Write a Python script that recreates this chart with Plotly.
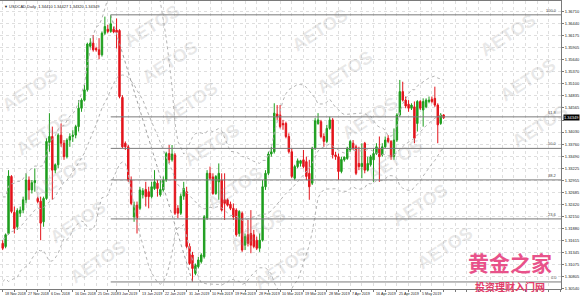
import pandas as pd
import plotly.graph_objects as go

# ---------------- data (USDCAD daily) ----------------
symbol = "USDCAD,Daily"
first_day = "2018-11-18"
last_day = "2019-05-14"
closed_days = ["2019-01-01"]

opens = [
 1.3155,1.3148,1.3177,1.3304,1.3224,1.3192,1.3222,1.3229,1.3252,1.3296,
 1.3274,1.3290,1.3255,1.3249,1.3203,1.3255,1.3380,1.3393,1.3318,1.3330,
 1.3396,1.3378,1.3348,1.3385,1.3393,1.3396,1.3415,1.3456,1.3474,1.3497,
 1.3594,1.3601,1.3589,1.3586,1.3575,1.3623,1.3632,1.3627,1.3632,1.3630,
 1.3629,1.3480,1.3378,1.3370,1.3296,1.3214,1.3240,1.3233,1.3263,1.3275,
 1.3270,1.3259,1.3277,1.3289,1.3263,1.3274,1.3296,1.3355,1.3341,1.3352,
 1.3233,1.3222,1.3260,1.3270,1.3148,1.3129,1.3088,1.3103,1.3114,1.3125,
 1.3211,1.3311,1.3303,1.3266,1.3292,1.3296,1.3252,1.3252,1.3242,1.3233,
 1.3229,1.3177,1.3222,1.3151,1.3174,1.3177,1.3174,1.3162,1.3144,1.3162,
 1.3281,1.3311,1.3354,1.3359,1.3443,1.3441,1.3422,1.3422,1.3393,1.3359,
 1.3300,1.3326,1.3333,1.3341,1.3337,1.3311,1.3289,1.3367,1.3422,1.3426,
 1.3393,1.3382,1.3411,1.3430,1.3352,1.3348,1.3315,1.3341,1.3344,1.3363,
 1.3378,1.3370,1.3333,1.3326,1.3378,1.3318,1.3330,1.3341,1.3355,1.3367,
 1.3352,1.3370,1.3389,1.3382,1.3348,1.3385,1.3441,1.3493,1.3474,1.3465,
 1.3456,1.3459,1.3422,1.3471,1.3452,1.3459,1.3471,1.3476,1.3478,1.3463,
 1.3422,1.34410]
highs = [
 1.3162,1.3177,1.3318,1.3307,1.3237,1.3233,1.3237,1.3259,1.3311,1.3304,
 1.3296,1.3322,1.3259,1.3259,1.3259,1.3389,1.3445,1.3415,1.3333,1.3400,
 1.3422,1.3385,1.3389,1.3400,1.3407,1.3419,1.3474,1.3478,1.3508,1.3602,
 1.3612,1.3619,1.3593,1.3612,1.3627,1.3660,1.3642,1.3664,1.3638,1.3656,
 1.3632,1.3485,1.3382,1.3374,1.3304,1.3248,1.3248,1.3281,1.3278,1.3292,
 1.3281,1.3292,1.3318,1.3296,1.3296,1.3304,1.3359,1.3374,1.3374,1.3356,
 1.3240,1.3266,1.3292,1.3281,1.3155,1.3136,1.3110,1.3125,1.3133,1.3218,
 1.3318,1.3326,1.3311,1.3307,1.3333,1.3311,1.3311,1.3255,1.3248,1.3244,
 1.3233,1.3229,1.3226,1.3177,1.3207,1.3229,1.3185,1.3170,1.3177,1.3296,
 1.3318,1.3359,1.3370,1.3467,1.3463,1.3463,1.3430,1.3426,1.3400,1.3367,
 1.3330,1.3344,1.3341,1.3363,1.3348,1.3341,1.3370,1.3434,1.3445,1.3430,
 1.3400,1.3419,1.3437,1.3434,1.3359,1.3355,1.3348,1.3348,1.3370,1.3385,
 1.3385,1.3374,1.3370,1.3378,1.3381,1.3348,1.3352,1.3367,1.3378,1.3393,
 1.3378,1.3393,1.3396,1.3385,1.3411,1.3445,1.3519,1.3515,1.3482,1.3474,
 1.3467,1.3471,1.3474,1.3474,1.3478,1.3478,1.3482,1.3482,1.3504,1.3467,
 1.3445,1.34427]
lows = [
 1.3140,1.3144,1.3174,1.3222,1.3177,1.3185,1.3214,1.3222,1.3244,1.3252,
 1.3266,1.3270,1.3244,1.3162,1.3192,1.3252,1.3359,1.3252,1.3311,1.3322,
 1.3370,1.3341,1.3344,1.3370,1.3381,1.3389,1.3404,1.3448,1.3471,1.3493,
 1.3589,1.3582,1.3582,1.3565,1.3571,1.3619,1.3623,1.3624,1.3623,1.3589,
 1.3478,1.3367,1.3363,1.3292,1.3240,1.3203,1.3177,1.3229,1.3255,1.3237,
 1.3233,1.3255,1.3274,1.3259,1.3259,1.3270,1.3292,1.3333,1.3337,1.3218,
 1.3211,1.3218,1.3252,1.3144,1.3107,1.3069,1.3084,1.3099,1.3110,1.3121,
 1.3207,1.3296,1.3263,1.3263,1.3252,1.3226,1.3207,1.3237,1.3229,1.3207,
 1.3170,1.3170,1.3136,1.3140,1.3148,1.3133,1.3144,1.3140,1.3136,1.3159,
 1.3274,1.3307,1.3348,1.3355,1.3430,1.3411,1.3408,1.3389,1.3355,1.3300,
 1.3296,1.3322,1.3326,1.3322,1.3296,1.3252,1.3285,1.3363,1.3419,1.3389,
 1.3370,1.3378,1.3408,1.3344,1.3341,1.3296,1.3311,1.3337,1.3341,1.3359,
 1.3363,1.3307,1.3318,1.3300,1.3311,1.3315,1.3326,1.3292,1.3352,1.3292,
 1.3348,1.3367,1.3378,1.3341,1.3341,1.3381,1.3437,1.3471,1.3456,1.3448,
 1.3452,1.3378,1.3404,1.3452,1.3415,1.3456,1.3467,1.3467,1.3459,1.3378,
 1.3419,1.34320]
closes = [
 1.3144,1.3174,1.3305,1.3226,1.3188,1.3228,1.3229,1.3252,1.3296,1.3274,
 1.3290,1.3295,1.3248,1.3200,1.3255,1.3382,1.3393,1.3318,1.3330,1.3396,
 1.3378,1.3348,1.3385,1.3393,1.3396,1.3415,1.3456,1.3474,1.3497,1.3599,
 1.3601,1.3586,1.3586,1.3575,1.3623,1.3638,1.3627,1.3644,1.3626,1.3625,
 1.3482,1.3370,1.3370,1.3296,1.3244,1.3240,1.3211,1.3274,1.3272,1.3259,
 1.3259,1.3281,1.3292,1.3277,1.3275,1.3296,1.3355,1.3341,1.3354,1.3222,
 1.3222,1.3260,1.3277,1.3148,1.3110,1.3099,1.3107,1.3118,1.3129,1.3214,
 1.3311,1.3300,1.3266,1.3304,1.3311,1.3229,1.3244,1.3240,1.3233,1.3214,
 1.3174,1.3226,1.3140,1.3170,1.3155,1.3151,1.3148,1.3144,1.3162,1.3281,
 1.3311,1.3354,1.3359,1.3445,1.3437,1.3415,1.3419,1.3393,1.3359,1.3304,
 1.3326,1.3339,1.3339,1.3326,1.3304,1.3281,1.3367,1.3428,1.3430,1.3393,
 1.3382,1.3411,1.3430,1.3352,1.3348,1.3315,1.3342,1.3347,1.3367,1.3382,
 1.3367,1.3311,1.3326,1.3333,1.3318,1.3333,1.3348,1.3355,1.3370,1.3348,
 1.3370,1.3385,1.3382,1.3348,1.3385,1.3441,1.3493,1.3474,1.3461,1.3456,
 1.3463,1.3389,1.3471,1.3456,1.3471,1.3474,1.3474,1.3471,1.3463,1.3419,
 1.3441,1.34349]
# closes of the bars just before the visible window (they feed the bands at the left edge)
prior_closes = [1.3110,1.3120,1.3135,1.3150,1.3160,1.3095,1.3140,1.3135,1.3150,1.3120,
                1.3140,1.3160,1.3220,1.3225,1.3240,1.3265,1.3240,1.3185,1.3145]

date_labels = ["18 Nov 2018","27 Nov 2018","6 Dec 2018","16 Dec 2018","25 Dec 2018",
               "3 Jan 2019","13 Jan 2019","22 Jan 2019","31 Jan 2019","10 Feb 2019",
               "19 Feb 2019","28 Feb 2019","10 Mar 2019","19 Mar 2019","28 Mar 2019",
               "7 Apr 2019","16 Apr 2019","25 Apr 2019","5 May 2019"]
price_ticks = [1.36710,1.36440,1.36175,1.35905,1.35640,1.35370,1.35100,1.34835,1.34565,
               1.34297,1.34030,1.33760,1.33490,1.33225,1.32955,1.32685,1.32420,1.32150,
               1.31880,1.31615,1.31345,1.31075,1.30805,1.30540]
fib_ratios = [1.0, 0.618, 0.5, 0.382, 0.236, 0.0]
fib_texts = ["100.0", "61.8", "50.0", "38.2", "23.6", "0.0"]
bb_period = 20
bb_dev = 2.0

# ---------------- bars / dates ----------------
days = pd.date_range(first_day, last_day, freq="D")
closed = set(pd.to_datetime(closed_days))
bar_dates = [d for d in days if d.weekday() != 5 and d not in closed]
n = min(len(bar_dates), len(closes))
bar_dates = bar_dates[:n]
idx = list(range(n))
date_to_idx = {d.strftime("%-d %b %Y"): i for i, d in enumerate(bar_dates)}
label_idx = [date_to_idx[l] for l in date_labels]

# Bollinger bands
s = pd.Series(prior_closes + closes[:n])
mid = s.rolling(bb_period).mean()
sd = s.rolling(bb_period).std(ddof=0)
upper = (mid + bb_dev * sd).iloc[-n:].tolist()
lower = (mid - bb_dev * sd).iloc[-n:].tolist()
middle = mid.iloc[-n:].tolist()

# ---------------- layout geometry ----------------
W, H = 580, 296
ML, MR, MT, MB = 0, 19, 1, 7
PW, PH = W - ML - MR, H - MT - MB
x_range = [-0.92, 191.2]
y_range = [1.30533, 1.36948]

def px(xp):
    return (xp - ML) / PW

def py(yp):
    return 1 - (yp - MT) / PH

fig = go.Figure()

GREEN = "#1e9e1e"
RED = "#e3141b"
BAND = "#b4b4b4"
GRID = "#dedede"

for band in (upper, middle, lower):
    fig.add_trace(go.Scatter(x=idx, y=band, mode="lines",
                             line=dict(color=BAND, width=1, dash="dot"),
                             hoverinfo="skip"))

fig.add_trace(go.Candlestick(
    x=idx, open=opens[:n], high=highs[:n], low=lows[:n], close=closes[:n],
    increasing=dict(fillcolor=GREEN, line=dict(color=GREEN, width=1)),
    decreasing=dict(fillcolor=RED, line=dict(color=RED, width=1)),
    whiskerwidth=0))

# Fibonacci retracement
hi = max(highs[:n]); lo = min(lows[:n])
i_hi = highs.index(hi); i_lo = lows.index(lo)
shapes = []
annotations = []
for r, t in zip(fib_ratios, fib_texts):
    lv = lo + r * (hi - lo)
    shapes.append(dict(type="line", xref="x", yref="y", x0=i_hi, x1=x_range[1],
                       y0=lv, y1=lv, line=dict(color="#7a7a7a", width=1)))
    annotations.append(dict(xref="paper", yref="y", x=1, y=lv, xshift=-2,
                            text=t, showarrow=False, xanchor="right", yanchor="bottom",
                            font=dict(size=4, color="#444", family="Liberation Sans")))
shapes.append(dict(type="line", xref="x", yref="y", x0=i_hi, y0=hi, x1=i_lo, y1=lo,
                   line=dict(color="#a0a0a0", width=1, dash="dot")))

# vertical grid every half label step
step = 4
grid_x = []
for a, b in zip(label_idx[:-1], label_idx[1:]):
    grid_x += [a, (a + b) / 2 if (b - a) % 2 == 0 else a + step]
g = label_idx[-1]
while g <= x_range[1]:
    grid_x.append(g)
    g += step

for lab, i in zip(date_labels, label_idx):
    annotations.append(dict(xref="x", yref="paper", x=i, y=0, yshift=-1,
                            text=lab, showarrow=False, xanchor="left", yanchor="top",
                            font=dict(size=3.7, color="#222", family="Liberation Sans")))

# header
last = n - 1
header = (f"▼ {symbol}  {opens[last]:.5f} {highs[last]:.5f} "
          f"{lows[last]:.5f} {closes[last]:.5f}")
annotations.append(dict(xref="paper", yref="paper", x=px(2), y=py(2),
                        text=header, showarrow=False, xanchor="left", yanchor="top",
                        font=dict(size=4, color="#222", family="Liberation Sans")))

# current price tag (covers the tick label at the same height)
annotations.append(dict(xref="paper", yref="y", x=1, y=closes[last], xshift=2,
                        text=f"{closes[last]:.5f}", showarrow=False,
                        xanchor="left", yanchor="middle", bgcolor="#000",
                        borderpad=0,
                        font=dict(size=4, color="#fff", family="Liberation Sans")))
tick_text = []
for v in price_ticks:
    hidden = abs(v - closes[last]) * (PH / (y_range[1] - y_range[0])) < 5
    tick_text.append("" if hidden else f"{v:.5f}")

# AETOS watermarks
wm_pos = [(30, 90), (44, 134), (60, 178), (78, 222), (98, 262),
          (152, 26), (170, 62), (190, 103), (212, 145), (235, 188), (258, 230), (282, 268),
          (320, 30), (345, 72), (370, 118), (395, 160), (420, 205), (445, 248),
          (508, 35), (528, 80), (540, 126)]
for (wx, wy) in wm_pos:
    annotations.append(dict(xref="paper", yref="paper", x=px(wx), y=py(wy),
                            text="<b>AETOS</b>", showarrow=False, textangle=-33,
                            xanchor="center", yanchor="middle",
                            font=dict(size=18, color="rgba(150,150,150,0.22)",
                                      family="Liberation Sans")))

# site marks (bottom right)
annotations.append(dict(xref="paper", yref="paper", x=px(510), y=py(262),
                        text="<b>黄金之家</b>", showarrow=False,
                        xanchor="center", yanchor="middle",
                        font=dict(size=21, color="#e8528a", family="Noto Sans CJK SC")))
annotations.append(dict(xref="paper", yref="paper", x=px(510), y=py(286),
                        text="<b>投资理财入门网</b>", showarrow=False,
                        xanchor="center", yanchor="middle",
                        font=dict(size=10, color="#e23d6a", family="Noto Sans CJK SC")))

fig.update_layout(
    width=W, height=H,
    margin=dict(l=ML, r=MR, t=MT, b=MB),
    paper_bgcolor="white", plot_bgcolor="white",
    showlegend=False,
    shapes=shapes, annotations=annotations,
    xaxis=dict(range=x_range, rangeslider=dict(visible=False),
               tickvals=grid_x, ticktext=["" for _ in grid_x],
               showgrid=True, gridcolor=GRID, griddash="dot", gridwidth=1,
               zeroline=False, showline=True, linecolor="#7a7a7a", mirror=True,
               ticks="outside", ticklen=2, tickcolor="#7a7a7a"),
    yaxis=dict(range=y_range, side="right",
               tickvals=price_ticks, ticktext=tick_text,
               showgrid=True, gridcolor=GRID, griddash="dot", gridwidth=1,
               zeroline=False, showline=True, linecolor="#7a7a7a", mirror=True,
               ticks="outside", ticklen=2, tickcolor="#7a7a7a",
               tickfont=dict(size=4, color="#222", family="Liberation Sans")),
    hovermode=False,
)

fig.write_html("out.html")
